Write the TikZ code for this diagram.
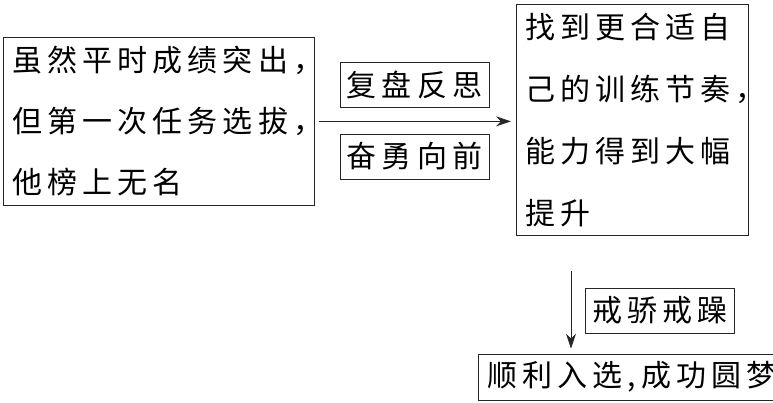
\documentclass[tikz,border=0pt]{standalone}
\usepackage{fontspec}
\usepackage{tikz}
\usetikzlibrary{arrows.meta}
\usetikzlibrary{positioning}
\newfontfamily\kai[LetterSpace=17]{Noto Sans CJK SC}

\begin{document}
\begin{tikzpicture}[
    x=1pt, y=-1pt,
    every node/.style={draw=black!85, line width=0.8pt, font=\kai\fontsize{30pt}{61pt}\selectfont, inner sep=0pt},
    bigbox/.style={align=left, inner xsep=9pt},
    tagbox/.style={minimum width=149pt, minimum height=45pt},
    flow/.style={line width=0.8pt, draw=black!85, -{Stealth[length=15pt,width=10pt]}}
]
\useasboundingbox (0,0) rectangle (773,403);
% Boxes
\node[bigbox, text width=293pt, minimum height=168pt, anchor=north west] (fact) at (3,37) {虽然平时成绩突出，\\但第一次任务选拔，\\他榜上无名};
\node[bigbox, text width=214pt, minimum height=231pt, anchor=north west, font=\kai\fontsize{30pt}{62pt}\selectfont] (gain) at (516,4) {找到更合适自\\己的训练节奏，\\能力得到大幅\\提升};
\node[minimum height=46pt, inner xsep=9pt, anchor=west] (goal) at (478,377) {顺利入选,成功圆梦};
% Labels
\node[tagbox] (review) at (414.5,84.5) {复盘反思};
\node[tagbox] (brave) at (414.5,156.5) {奋勇向前};
\node[tagbox] (calm) at (660,310.5) {戒骄戒躁};
% Arrows
\coordinate (turn) at (571,271);
\draw[flow, shorten <=4pt, shorten >=5pt] (fact.east) -- (fact.east -| gain.west);
\draw[flow, shorten >=5pt] (turn) -- (turn |- goal.north);
\end{tikzpicture}
\end{document}
